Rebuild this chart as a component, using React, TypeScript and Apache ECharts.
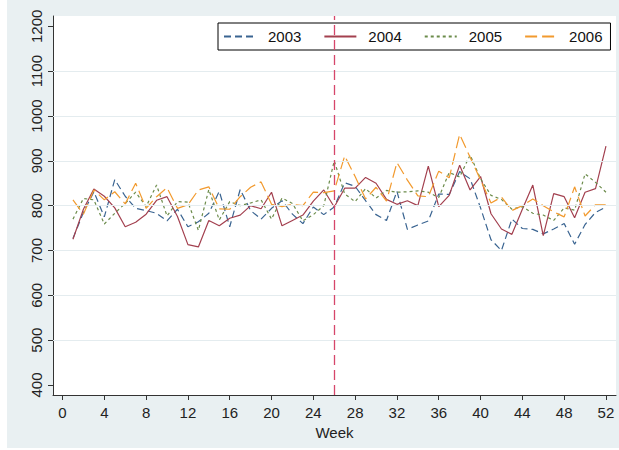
import React, { useEffect, useRef } from 'react';
import * as echarts from 'echarts';

const weeks = Array.from({ length: 52 }, (_, i) => i + 1);
const years = ['2003', '2004', '2005', '2006'];

const sales2003 = [
  727, 785, 831, 775, 858, 821, 794, 789, 783, 766,
  792, 753, 764, 783, 832, 753, 836, 789, 770, 794,
  811, 781, 760, 797, 780, 797, 851, 843, 811, 780,
  767, 832, 747, 757, 766, 826, 825, 876, 860, 795,
  724, 700, 770, 749, 747, 737, 748, 760, 714, 758,
  785, 797,
];
const sales2004 = [
  725, 792, 837, 821, 795, 753, 763, 781, 812, 820,
  776, 713, 708, 767, 755, 772, 779, 800, 793, 830,
  755, 767, 779, 810, 835, 797, 839, 839, 863, 850,
  814, 803, 811, 800, 888, 798, 823, 890, 835, 865,
  782, 748, 736, 792, 846, 733, 827, 820, 773, 830,
  838, 933,
];
const sales2005 = [
  770, 816, 813, 759, 783, 805, 830, 798, 846, 777,
  809, 808, 745, 836, 768, 809, 800, 806, 813, 770,
  817, 805, 766, 780, 800, 900, 826, 809, 838, 817,
  834, 830, 831, 833, 830, 818, 874, 864, 913, 860,
  823, 814, 792, 798, 783, 779, 767, 795, 790, 871,
  852, 830,
];
const sales2006 = [
  813, 781, 835, 813, 831, 804, 850, 794, 820, 840,
  794, 802, 835, 842, 793, 792, 820, 841, 853, 803,
  798, 803, 800, 830, 829, 833, 911, 865, 815, 841,
  810, 896, 857, 822, 820, 877, 862, 959, 908, 857,
  806, 819, 789, 800, 815, 800, 786, 775, 842, 777,
  802, 802,
];

const xTicks = [0, 4, 8, 12, 16, 20, 24, 28, 32, 36, 40, 44, 48, 52];
const yTicks = [400, 500, 600, 700, 800, 900, 1000, 1100, 1200];
const gridValues = [500, 600, 700, 800, 900, 1000, 1100];
const cutoffWeek = 26;

const allSales = [sales2003, sales2004, sales2005, sales2006];
const colors = ['#3a6491', '#a3404f', '#6b8b4a', '#f29a2e'];
const dashes: any[] = [[7, 4], 'solid', [3, 3], [12, 5]];

const font = '"Liberation Sans", Arial, sans-serif';
const bg = '#e9f0f2';

const App = () => {
  const chartRef = useRef<HTMLDivElement>(null);

  useEffect(() => {
    if (!chartRef.current) return;
    const chart = echarts.init(chartRef.current, null, { renderer: 'svg' });

    const lineSeries = years.map((year, k) => ({
      name: year,
      type: 'line',
      data: allSales[k].map((v, i) => [weeks[i], v]),
      symbol: 'none',
      z: 3,
      lineStyle: { color: colors[k], width: 1.2, type: dashes[k] },
      itemStyle: { color: colors[k] },
    }));

    const option = {
      animation: false,
      backgroundColor: bg,
      textStyle: { fontFamily: font },
      grid: {
        left: 46,
        top: 16,
        width: 563,
        height: 379,
        show: true,
        backgroundColor: '#ffffff',
        borderWidth: 0,
      },
      legend: {
        data: years,
        left: 211,
        top: 23,
        itemWidth: 32,
        itemHeight: 14,
        itemGap: 22,
        padding: [6, 8, 6, 5],
        borderColor: '#000000',
        borderWidth: 1,
        backgroundColor: '#ffffff',
        itemStyle: { color: 'rgba(0,0,0,0)', borderColor: 'rgba(0,0,0,0)', borderWidth: 0 },
        textStyle: { fontSize: 15, color: '#111', fontFamily: font, padding: [0, 0, 0, 7] },
      },
      xAxis: {
        type: 'value',
        min: -0.91,
        max: 52.96,
        name: 'Week',
        nameLocation: 'middle',
        nameGap: 26,
        nameTextStyle: { fontSize: 15, color: '#222', fontFamily: font },
        axisLine: { show: true, onZero: false, lineStyle: { color: '#333', width: 1 } },
        axisTick: { show: true, length: 5, customValues: xTicks, lineStyle: { color: '#333' } },
        axisLabel: {
          customValues: xTicks,
          fontSize: 15,
          color: '#222',
          margin: 10,
          fontFamily: font,
          formatter: (v: number) => String(v),
        },
        splitLine: { show: false },
      },
      yAxis: {
        type: 'value',
        min: 377.7,
        max: 1223,
        axisLine: { show: true, onZero: false, lineStyle: { color: '#333', width: 1 } },
        axisTick: { show: true, length: 5, customValues: yTicks, lineStyle: { color: '#333' } },
        axisLabel: {
          customValues: yTicks,
          rotate: 90,
          fontSize: 15,
          color: '#222',
          margin: 9,
          fontFamily: font,
          formatter: (v: number) => String(v),
        },
        splitLine: { show: false },
      },
      series: [
        {
          name: 'grid',
          type: 'line',
          data: [],
          z: 1,
          silent: true,
          markLine: {
            silent: true,
            symbol: 'none',
            label: { show: false },
            lineStyle: { color: '#e4ecef', width: 1, type: 'solid' },
            data: gridValues.map((v) => ({ yAxis: v })),
          },
        },
        ...lineSeries,
        {
          name: 'cutoff',
          type: 'line',
          data: [],
          z: 5,
          silent: true,
          markLine: {
            silent: true,
            symbol: 'none',
            label: { show: false },
            lineStyle: { color: '#d6466a', width: 1.3, type: [10, 5] },
            data: [{ xAxis: cutoffWeek }],
          },
        },
      ],
    };

    chart.setOption(option as any);

    const resizeHandler = () => chart.resize();
    window.addEventListener('resize', resizeHandler);
    return () => {
      window.removeEventListener('resize', resizeHandler);
      chart.dispose();
    };
  }, []);

  return (
    <div
      ref={chartRef}
      style={{ position: 'absolute', left: 7, top: 0, width: 612, height: 448 }}
    />
  );
};

export default App;
